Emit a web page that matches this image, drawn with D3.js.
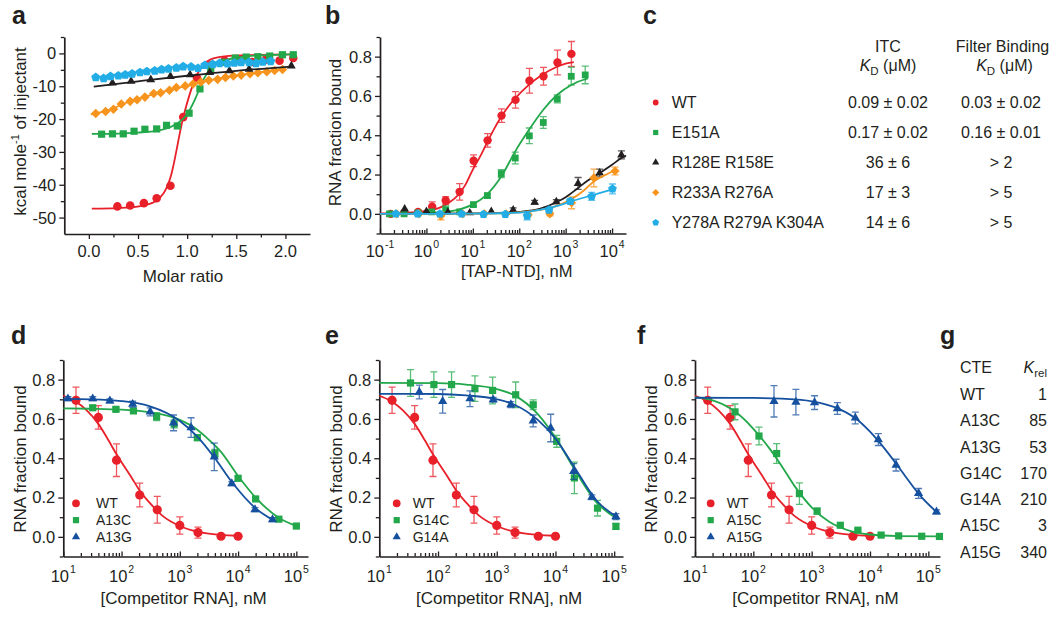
<!DOCTYPE html>
<html><head><meta charset="utf-8">
<script src="https://cdn.jsdelivr.net/npm/d3@7"></script>
<style>
body{margin:0;background:#fff}
svg text{font-family:"Liberation Sans",Arial,Helvetica,sans-serif;fill:#231f20}
</style></head><body>
<script>
// ---------- Panel a : ITC (molar ratio, kcal/mol) ----------
const aWT = [[0.29,-46.6],[0.42,-46.3],[0.56,-45.6],[0.69,-44.1],[0.83,-40.3],[0.96,-19.4],[1.10,-7.4],[1.24,-3.6],[1.38,-2.2],[1.52,-1.8],[1.66,-2.6],[1.80,-1.9],[1.94,-2.2],[2.08,-1.4]];
const aWTfit = [[0.03,-47.3],[0.29,-47.1],[0.42,-46.9],[0.56,-46.3],[0.69,-44.8],[0.83,-37.8],[0.96,-19.5],[1.10,-6.5],[1.24,-1.8],[1.38,-0.9],[1.66,-0.5],[2.10,-0.3]];
const aE151A = [[0.13,-24.6],[0.24,-24.5],[0.35,-24.5],[0.46,-23.7],[0.57,-23.1],[0.69,-23.0],[0.79,-21.9],[0.90,-22.1],[1.02,-18.2],[1.13,-10.8],[1.24,-4.8],[1.38,-2.7],[1.49,-1.4],[1.60,-1.1],[1.72,-1.0],[1.84,-0.8],[1.97,-0.4],[2.08,-0.4]];
const aE151Afit = [[0.03,-24.5],[0.3,-24.4],[0.5,-24.1],[0.7,-23.5],[0.8,-22.8],[0.9,-21.3],[1.0,-18.5],[1.08,-14],[1.15,-9],[1.22,-5.3],[1.3,-3.2],[1.4,-2.0],[1.55,-1.1],[1.75,-0.6],[2.08,-0.3]];
const aR233A = [[0.07,-18.3],[0.17,-17.7],[0.25,-17.0],[0.33,-15.4],[0.42,-14.6],[0.49,-14.1],[0.57,-13.3],[0.66,-12.2],[0.73,-12.0],[0.82,-11.2],[0.89,-10.4],[0.98,-9.9],[1.06,-9.3],[1.14,-8.7],[1.22,-8.2],[1.31,-7.9],[1.39,-7.3],[1.47,-6.9],[1.55,-6.6],[1.64,-6.2],[1.72,-5.9],[1.81,-5.6],[1.89,-5.2],[1.97,-4.9]];
const aR233Afit = [[0.02,-18.6],[0.2,-17.3],[0.4,-14.8],[0.6,-12.9],[0.8,-11.3],[1.0,-9.9],[1.2,-8.4],[1.4,-7.2],[1.6,-6.3],[1.8,-5.5],[1.97,-4.9]];
const aR128E = [[0.24,-9.0],[0.43,-8.5],[0.63,-8.0],[0.83,-7.0],[1.03,-6.5],[1.23,-5.8],[1.43,-5.3],[1.63,-4.8],[2.06,-3.8]];
const aR128Efit = [[0.05,-10.1],[0.5,-8.5],[1.0,-6.8],[1.5,-5.3],[2.06,-4.0]];
const aY278A = [[0.07,-7.3],[0.15,-7.6],[0.22,-7.0],[0.30,-6.8],[0.37,-6.5],[0.44,-6.2],[0.52,-5.8],[0.59,-5.5],[0.67,-5.3],[0.74,-4.9],[0.81,-4.7],[0.89,-4.4],[0.96,-4.0],[1.04,-4.1],[1.11,-4.5],[1.18,-3.6],[1.26,-3.3],[1.33,-3.0],[1.41,-3.1],[1.48,-2.9],[1.55,-2.7],[1.63,-2.7],[1.70,-3.0],[1.77,-2.6],[1.85,-2.4]];
const aYMajor = [-50,-40,-30,-20,-10,0];
const aYMinor = [-45,-35,-25,-15,-5,5];
const aXMajor = [0,0.5,1,1.5,2];
const aXMinor = [0.25,0.75,1.25,1.75];

// ---------- Panel b : filter binding [TAP-NTD] nM -> fraction bound  [x, y, err] ----------
const bWT = [[0.17,0.0,0],[0.33,0.005,0],[0.66,0.01,0],[1.33,0.036,0.025],[2.6,0.068,0.02],[5.2,0.112,0.042],[10.4,0.27,0.03],[20.8,0.374,0.034],[41.6,0.50,0.034],[83,0.58,0.042],[166,0.677,0.063],[333,0.70,0.045],[666,0.77,0.063],[1330,0.814,0.063]];
const bWTfit = [[0.1,0.002],[0.3,0.005],[1,0.015],[2,0.033],[3,0.055],[5,0.1],[7,0.15],[10,0.225],[15,0.30],[20,0.36],[30,0.44],[40,0.49],[60,0.55],[80,0.585],[150,0.65],[300,0.705],[600,0.745],[1000,0.765],[1500,0.772]];
const bE151A = [[0.16,0.0,0],[0.33,0.0,0],[0.66,0.005,0],[1.3,0.01,0],[2.6,0.02,0.02],[5.2,0.01,0],[10.3,0.047,0.01],[20.6,0.093,0.01],[41,0.205,0.02],[82,0.284,0.03],[165,0.397,0.04],[330,0.465,0.03],[660,0.585,0.02],[1320,0.70,0.045],[2640,0.707,0.045]];
const bE151Afit = [[0.1,0.0],[1,0.004],[3,0.012],[5,0.022],[10,0.048],[20,0.098],[41,0.19],[82,0.318],[165,0.43],[330,0.53],[660,0.606],[1320,0.656],[2640,0.685],[3000,0.688]];
const bR128E = [[0.34,0.025,0],[1.0,0.012,0],[2.9,0.008,0],[8.6,0.005,0],[25,0.012,0],[74,0.02,0.01],[215,0.059,0.01],[630,0.062,0.01],[1850,0.155,0.03],[5400,0.208,0.02],[15900,0.30,0.02]];
const bR128Efit = [[0.1,0.0],[10,0.002],[50,0.006],[100,0.01],[275,0.025],[630,0.059],[1000,0.085],[1860,0.132],[3000,0.17],[5430,0.208],[10000,0.25],[15900,0.284],[20000,0.297]];
const bR233A = [[0.23,0.0,0],[0.69,0.0,0],[2.05,-0.01,0.02],[6.0,0.0,0],[17.8,0.0,0],[52,0.0,0],[155,-0.005,0.01],[457,0.0,0.01],[1340,0.056,0.03],[4040,0.183,0.045],[11600,0.218,0.02]];
const bR233Afit = [[0.1,0.0],[10,0.001],[50,0.004],[100,0.007],[275,0.02],[600,0.038],[1340,0.075],[2500,0.12],[4040,0.165],[7000,0.197],[11600,0.222]];
const bY278A = [[0.22,0.0,0],[0.65,0.0,0],[1.95,0.0,0],[5.75,0.0,0],[17,-0.002,0],[50,-0.002,0],[148,-0.01,0.02],[437,0.02,0.01],[1260,0.064,0.015],[3630,0.089,0.02],[10200,0.127,0.025]];
const bY278Afit = [[0.1,0.0],[10,0.001],[100,0.006],[275,0.02],[600,0.038],[1260,0.062],[3630,0.094],[10200,0.125]];
const bExponents = [-1,0,1,2,3,4];
const fracMajor = [0,0.2,0.4,0.6,0.8];
const fracMinor = [-0.1,0.1,0.3,0.5,0.7,0.9];

// ---------- Panel c : table ----------
const cNames = ["WT","E151A","R128E R158E","R233A R276A","Y278A R279A K304A"];
const cITC = ["0.09 \u00b1 0.02","0.17 \u00b1 0.02","36 \u00b1 6","17 \u00b1 3","14 \u00b1 6"];
const cFilter = ["0.03 \u00b1 0.02","0.16 \u00b1 0.01","> 2","> 5","> 5"];

// ---------- Panels d, e, f : competition [x, y, err] ----------
const compWT = [[16.5,0.695,0.067],[40,0.608,0.06],[82,0.39,0.083],[205,0.213,0.06],[410,0.138,0.068],[1000,0.058,0.044],[2050,0.022,0.028],[5100,0.003,0.005],[10000,0.003,0.005]];
const compWTfit = [[10,0.718],[16,0.69],[25,0.645],[40,0.575],[60,0.49],[80,0.425],[100,0.38],[150,0.30],[200,0.24],[300,0.175],[500,0.108],[1000,0.055],[2000,0.026],[5000,0.01],[10000,0.006]];
const dA13C = [[32,0.657,0.01],[80,0.649,0.01],[160,0.641,0.012],[400,0.612,0.02],[800,0.575,0.02],[2000,0.505,0.015],[4000,0.425,0.02],[10000,0.298,0.01],[20000,0.193,0.01],[50000,0.09,0.008],[100000,0.055,0.005]];
const dA13Cfit = [[10,0.654],[30,0.652],[100,0.647],[300,0.634],[1000,0.595],[2000,0.545],[3000,0.5],[4000,0.465],[5000,0.435],[10000,0.31],[20000,0.2],[50000,0.097],[100000,0.055]];
const dA13G = [[12,0.703,0.01],[32,0.703,0.01],[63,0.692,0.01],[155,0.675,0.015],[310,0.636,0.02],[780,0.58,0.04],[1560,0.556,0.05],[3900,0.407,0.07],[7800,0.271,0.01],[19500,0.139,0.01],[39000,0.088,0.01]];
const dA13Gfit = [[10,0.702],[30,0.700],[100,0.691],[300,0.665],[1000,0.59],[2000,0.51],[4000,0.40],[8000,0.275],[20000,0.145],[40000,0.085]];
const eG14C = [[34,0.783,0.068],[85,0.775,0.065],[170,0.775,0.065],[425,0.754,0.065],[850,0.745,0.068],[2100,0.723,0.065],[4180,0.672,0.025],[10500,0.486,0.03],[21000,0.30,0.08],[52000,0.146,0.04],[107000,0.053,0.015]];
const eG14Cfit = [[10,0.784],[100,0.782],[300,0.775],[1000,0.752],[2000,0.72],[5000,0.625],[10000,0.505],[20000,0.355],[50000,0.175],[115000,0.09]];
const eG14A = [[48,0.737,0.035],[120,0.69,0.06],[350,0.703,0.04],[870,0.698,0.012],[1740,0.673,0.015],[4170,0.59,0.03],[8300,0.554,0.07],[20400,0.333,0.04],[41700,0.202,0.012],[107000,0.103,0.015]];
const eG14Afit = [[10,0.728],[100,0.727],[300,0.72],[1000,0.70],[2000,0.672],[5000,0.595],[10000,0.50],[20000,0.365],[50000,0.185],[115000,0.098]];
const fA15C = [[48.5,0.636,0.04],[125,0.513,0.045],[251,0.424,0.05],[617,0.22,0.055],[1240,0.131,0.015],[3100,0.059,0.008],[6200,0.034,0.006],[15500,0.009,0.005],[31000,0.005,0],[77000,0.003,0],[155000,0.002,0]];
const fA15Cfit = [[10,0.71],[20,0.695],[50,0.635],[100,0.55],[200,0.44],[300,0.365],[500,0.262],[1000,0.15],[2000,0.077],[5000,0.027],[10000,0.012],[30000,0.004],[160000,0.002]];
const fA15G = [[226,0.69,0.08],[537,0.686,0.065],[1120,0.683,0.035],[2760,0.653,0.03],[5600,0.605,0.03],[13900,0.495,0.03],[28000,0.365,0.03],[68000,0.221,0.025],[138000,0.127,0.01]];
const fA15Gfit = [[10,0.708],[100,0.707],[300,0.703],[1000,0.69],[3000,0.65],[6000,0.597],[10000,0.535],[20000,0.43],[40000,0.31],[70000,0.215],[140000,0.125]];
const compExponents = [1,2,3,4,5];
const dLegend = ["WT","A13C","A13G"];
const eLegend = ["WT","G14C","G14A"];
const fLegend = ["WT","A15C","A15G"];

// ---------- Panel g ----------
const gNames = ["WT","A13C","A13G","G14C","G14A","A15C","A15G"];
const gKrel = ["1","85","53","170","210","3","340"];

// ================== drawing ==================
const COL = {red:"#e8202a", green:"#22a84a", black:"#231f20", orange:"#f7941d", cyan:"#23ade6", blue:"#15509f"};
const INK = "#231f20";
const svg = d3.select("body").append("svg").attr("width",1050).attr("height",617);

function shapePath(type, s){
  if(type==="circle") return `M${-s},0A${s},${s} 0 1,0 ${s},0A${s},${s} 0 1,0 ${-s},0Z`;
  if(type==="square") return `M${-s},${-s}H${s}V${s}H${-s}Z`;
  if(type==="diamond") return `M0,${-s}L${s},0L0,${s}L${-s},0Z`;
  if(type==="triangle"){const h=s*Math.sqrt(3);return `M0,${-2*h/3}L${s},${h/3}L${-s},${h/3}Z`;}
  if(type==="pentagon"){let p="";for(let k=0;k<5;k++){const a=-Math.PI/2+k*2*Math.PI/5;p+=(k?"L":"M")+(s*Math.cos(a)).toFixed(2)+","+(s*Math.sin(a)).toFixed(2);}return p+"Z";}
}

function series(g, x, y, data, fit, color, shape, size){
  const s = g.append("g");
  if(fit){
    s.append("path").datum(fit)
      .attr("d", d3.line().x(d=>x(d[0])).y(d=>y(d[1])).curve(d3.curveMonotoneX))
      .attr("fill","none").attr("stroke",color).attr("stroke-width",1.8);
  }
  const eb = data.filter(d=>d[2]>0);
  const ebg = s.append("g").attr("stroke",color).attr("stroke-opacity",0.75).attr("stroke-width",1.3);
  ebg.selectAll("path").data(eb).join("path")
    .attr("d", d=>{const cx=x(d[0]), y1=y(d[1]+d[2]), y2=y(d[1]-d[2]);
      return `M${cx},${y1}V${y2}M${cx-3.5},${y1}H${cx+3.5}M${cx-3.5},${y2}H${cx+3.5}`;})
    .attr("fill","none");
  s.selectAll(".m").data(data).join("path").attr("class","m")
    .attr("transform", d=>`translate(${x(d[0])},${y(d[1])})`)
    .attr("d", shapePath(shape,size)).attr("fill",color);
}

function logMinor(domain){
  const out=[]; const lo=Math.floor(Math.log10(domain[0])), hi=Math.ceil(Math.log10(domain[1]));
  for(let e=lo;e<=hi;e++) for(let m=2;m<=9;m++){const v=m*Math.pow(10,e); if(v>domain[0]&&v<domain[1]) out.push(v);}
  return out;
}

function axes(g, x, y, cfg){
  const [xl] = x.range(); const [yb] = y.range();
  const style = sel => { sel.selectAll("path,line").attr("stroke",INK); sel.select(".domain").attr("stroke-width",1.7); sel.selectAll(".tick line").attr("stroke-width",1.3); };
  g.append("g").attr("transform",`translate(${xl},0)`)
    .call(d3.axisLeft(y).tickValues(cfg.yMajor).tickSize(5).tickSizeOuter(0).tickFormat(""))
    .call(style);
  g.append("g").attr("transform",`translate(${xl},0)`)
    .call(d3.axisLeft(y).tickValues(cfg.yMinor).tickSize(3.5).tickSizeOuter(0).tickFormat(""))
    .call(sel=>sel.select(".domain").remove()).call(style);
  g.selectAll(null).data(cfg.yMajor).join("text")
    .attr("x", xl-8).attr("y", d=>y(d)).attr("dy","0.36em").attr("text-anchor","end")
    .attr("font-size",16.5).text(cfg.yFmt);
  const dir = cfg.xInward ? -1 : 1;
  g.append("g").attr("transform",`translate(0,${yb})`)
    .call(d3.axisBottom(x).tickValues(cfg.xMajor).tickSize(5*dir).tickSizeOuter(0).tickFormat(""))
    .call(style);
  g.append("g").attr("transform",`translate(0,${yb})`)
    .call(d3.axisBottom(x).tickValues(cfg.xMinor).tickSize(3.5*dir).tickSizeOuter(0).tickFormat(""))
    .call(sel=>sel.select(".domain").remove()).call(style);
  if(cfg.xExp){
    const t = g.selectAll(null).data(cfg.xExp).join("text")
      .attr("x", d=>x(Math.pow(10,d))).attr("y", yb+cfg.labOff).attr("text-anchor","middle").attr("font-size",16.5);
    t.append("tspan").text("10");
    t.append("tspan").attr("dy",-9).attr("dx",1).attr("font-size",10.5).text(d=>String(d));
  } else {
    g.selectAll(null).data(cfg.xMajor).join("text")
      .attr("x", d=>x(d)).attr("y", yb+22.7).attr("text-anchor","middle").attr("font-size",16.5).text(cfg.xFmt);
  }
}

function ylabel(g, bx, cy, build){
  const t = g.append("text").attr("transform",`translate(${bx},${cy}) rotate(-90)`)
    .attr("text-anchor","middle").attr("font-size",17);
  build(t);
}
function panelLabel(txt, x, yb){
  svg.append("text").attr("x",x).attr("y",yb).attr("font-size",25).attr("font-weight","bold").text(txt);
}

// ----- Panel a -----
{
  const g = svg.append("g");
  const x = d3.scaleLinear().domain([-0.25,2.25]).range([64.3,310]);
  const y = d3.scaleLinear().domain([-55,5]).range([234,37]);
  axes(g,x,y,{yMajor:aYMajor,yMinor:aYMinor,yFmt:d=>String(d),xMajor:aXMajor,xMinor:aXMinor,xFmt:d3.format(".1f"),xInward:false});
  series(g,x,y,aWT,aWTfit,COL.red,"circle",4.3);
  series(g,x,y,aE151A,aE151Afit,COL.green,"square",3.6);
  series(g,x,y,aR233A,aR233Afit,COL.orange,"diamond",4.8);
  series(g,x,y,aR128E,aR128Efit,COL.black,"triangle",4.4);
  series(g,x,y,aY278A,null,COL.cyan,"pentagon",4.8);
  ylabel(g,26,131.5,t=>{t.append("tspan").text("kcal mole");t.append("tspan").attr("dy",-7).attr("font-size",11).text("-1");t.append("tspan").attr("dy",7).text(" of injectant");});
  g.append("text").attr("x",183).attr("y",282).attr("text-anchor","middle").attr("font-size",17).text("Molar ratio");
  panelLabel("a",12,24);
}

// ----- Panel b -----
{
  const g = svg.append("g");
  const x = d3.scaleLog().domain([0.1,Math.pow(10,4.3)]).range([380,626]);
  const y = d3.scaleLinear().domain([-0.1,0.9]).range([233.5,37]);
  axes(g,x,y,{yMajor:fracMajor,yMinor:fracMinor,yFmt:d3.format(".1f"),xMajor:bExponents.map(e=>Math.pow(10,e)),xMinor:logMinor(x.domain()),xExp:bExponents,xInward:true,labOff:23});
  series(g,x,y,bWT,bWTfit,COL.red,"circle",4.2);
  series(g,x,y,bE151A,bE151Afit,COL.green,"square",3.4);
  series(g,x,y,bR128E,bR128Efit,COL.black,"triangle",4.3);
  series(g,x,y,bR233A,bR233Afit,COL.orange,"diamond",4.6);
  series(g,x,y,bY278A,bY278Afit,COL.cyan,"pentagon",4.6);
  ylabel(g,341,132.5,t=>t.text("RNA fraction bound"));
  g.append("text").attr("x",516.7).attr("y",277).attr("text-anchor","middle").attr("font-size",16.5).text("[TAP-NTD], nM");
  panelLabel("b",325,24);
}

// ----- Panel c -----
{
  const g = svg.append("g");
  panelLabel("c",643,24);
  g.append("text").attr("x",888).attr("y",52).attr("text-anchor","middle").attr("font-size",16).text("ITC");
  g.append("text").attr("x",1002.5).attr("y",52).attr("text-anchor","middle").attr("font-size",16).text("Filter Binding");
  [888,1004.5].forEach(cx=>{
    const t = g.append("text").attr("x",cx).attr("y",71).attr("text-anchor","middle").attr("font-size",16);
    t.append("tspan").attr("font-style","italic").text("K");
    t.append("tspan").attr("dy",4).attr("font-size",11.5).text("D");
    t.append("tspan").attr("dy",-4).text(" (\u03bcM)");
  });
  const shapes = [["circle",2.9,COL.red],["square",2.6,COL.green],["triangle",3.6,COL.black],["diamond",3.6,COL.orange],["pentagon",3.6,COL.cyan]];
  const rowY = d3.scalePoint().domain(cNames).range([108,228]);
  cNames.forEach((n,i)=>{
    const by = rowY(n);
    g.append("path").attr("transform",`translate(655.7,${by-5.5})`).attr("d",shapePath(shapes[i][0],shapes[i][1])).attr("fill",shapes[i][2]);
    g.append("text").attr("x",671.7).attr("y",by).attr("font-size",16).text(n);
    g.append("text").attr("x",888).attr("y",by).attr("text-anchor","middle").attr("font-size",16).text(cITC[i]);
    g.append("text").attr("x",1001).attr("y",by).attr("text-anchor","middle").attr("font-size",16).text(cFilter[i]);
  });
}

// ----- Competition panels -----
function compPanel(cfg){
  const g = svg.append("g");
  const x = d3.scaleLog().domain([10,Math.pow(10,cfg.xmaxExp)]).range([cfg.left,cfg.right]);
  const y = d3.scaleLinear().domain([-0.1,0.9]).range([556.5,360]);
  axes(g,x,y,{yMajor:fracMajor,yMinor:fracMinor,yFmt:d3.format(".1f"),xMajor:compExponents.map(e=>Math.pow(10,e)),xMinor:logMinor(x.domain()),xExp:compExponents,xInward:true,labOff:25});
  series(g,x,y,compWT,compWTfit,COL.red,"circle",4.6);
  series(g,x,y,cfg.s1,cfg.s1fit,COL.green,"square",3.6);
  series(g,x,y,cfg.s2,cfg.s2fit,COL.blue,"triangle",4.6);
  ylabel(g,cfg.left-37.8,459,t=>t.text("RNA fraction bound"));
  g.append("text").attr("x",(cfg.left+cfg.right)/2-2).attr("y",603.5).attr("text-anchor","middle").attr("font-size",17).text("[Competitor RNA], nM");
  const lg = [["circle",3.9,COL.red],["square",3.1,COL.green],["triangle",4.1,COL.blue]];
  const ly = d3.scalePoint().domain(cfg.legend).range([508,541.7]);
  cfg.legend.forEach((n,i)=>{
    g.append("path").attr("transform",`translate(${cfg.lx},${ly(n)-4.7})`).attr("d",shapePath(lg[i][0],lg[i][1])).attr("fill",lg[i][2]);
    g.append("text").attr("x",cfg.tx).attr("y",ly(n)).attr("font-size",14).text(n);
  });
  panelLabel(cfg.label,cfg.labelX,344);
}
compPanel({left:63.3,right:308,xmaxExp:5.2,s1:dA13C,s1fit:dA13Cfit,s2:dA13G,s2fit:dA13Gfit,legend:dLegend,lx:76,tx:96,label:"d",labelX:11});
compPanel({left:379.3,right:623,xmaxExp:5.15,s1:eG14C,s1fit:eG14Cfit,s2:eG14A,s2fit:eG14Afit,legend:eLegend,lx:396.7,tx:412.7,label:"e",labelX:325});
compPanel({left:695,right:940,xmaxExp:5.2,s1:fA15C,s1fit:fA15Cfit,s2:fA15G,s2fit:fA15Gfit,legend:fLegend,lx:710.7,tx:726.7,label:"f",labelX:637});

// ----- Panel g -----
{
  const g = svg.append("g");
  panelLabel("g",940,344);
  g.append("text").attr("x",960).attr("y",373.3).attr("font-size",16).text("CTE");
  const k = g.append("text").attr("x",1047).attr("y",373.3).attr("text-anchor","end").attr("font-size",16);
  k.append("tspan").attr("font-style","italic").text("K");
  k.append("tspan").attr("dy",4).attr("font-size",11.5).text("rel");
  const ry = d3.scalePoint().domain(gNames).range([400,557.5]);
  gNames.forEach((n,i)=>{
    g.append("text").attr("x",960).attr("y",ry(n)).attr("font-size",16).text(n);
    g.append("text").attr("x",1047).attr("y",ry(n)).attr("text-anchor","end").attr("font-size",16).text(gKrel[i]);
  });
}
</script></body></html>
